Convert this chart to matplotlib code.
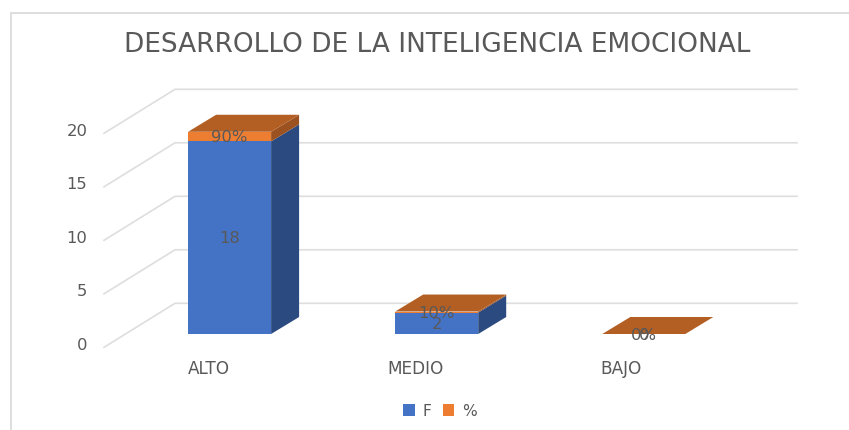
import matplotlib
matplotlib.use("Agg")
import matplotlib.pyplot as plt
from matplotlib.patches import Polygon, Patch

categories = ["ALTO", "MEDIO", "BAJO"]
f_values = [18, 2, 0]
pct_values = [0.9, 0.1, 0.0]
pct_labels = ["90%", "10%", "0%"]
y_ticks = [0, 5, 10, 15, 20]
title = "DESARROLLO DE LA INTELIGENCIA EMOCIONAL"

W, H = 849, 430
X0, XS = 229.6, 207.1      # pixel of category 0, pixels per category
Y0, YS = 334.0, 10.7       # pixel of value 0 at bar front, pixels per unit
TXT = "#595959"; GRID = "#dedede"
BLUE = "#4472c4"; BLUE_S = "#2b4a80"; ORANGE = "#ed7d31"
ORANGE_S = "#9c5220"; TOP = "#b35e22"
plt.rcParams["font.family"] = ["DejaVu Sans"]

fig = plt.figure(figsize=(W / 100, H / 100), dpi=100, facecolor="white")
ax = fig.add_axes([0, 0, 1, 1])
ax.set_xlim(-X0 / XS, (W - X0) / XS)
ax.set_ylim((Y0 - H) / YS, Y0 / YS)
ax.axis("off")

px = 1 / XS          # one pixel in x data units
py = 1 / YS          # one pixel in y data units
DX, DY = 28 * px, 17 * py      # bar depth
width = 83 * px

# chart frame
ax.plot([(11 - X0) * px] * 2, [(Y0 - 430) * py, (Y0 - 13) * py], color=GRID, lw=1.4, zorder=1)
ax.plot([(11 - X0) * px, (849 - X0) * px], [(Y0 - 13) * py] * 2, color=GRID, lw=1.4, zorder=1)

# walls
for v in y_ticks:
    back = v + (Y0 - 303.3) * py
    front = v - 13.3 * py
    ax.plot([(104 - X0) * px, (175 - X0) * px, (797 - X0) * px], [front, back, back],
            color=GRID, lw=1.2, zorder=2, solid_joinstyle="miter")
    ax.text((87.5 - X0) * px, v - 11.4 * py, str(v), ha="right", va="center",
            color=TXT, fontsize=11.8, zorder=6)

pos = range(len(categories))
ax.bar(pos, f_values, width=width, color=BLUE, zorder=4)
ax.bar(pos, pct_values, width=width, bottom=f_values, color=ORANGE, zorder=4)

for i, (f, p) in enumerate(zip(f_values, pct_values)):
    r, l = i + width / 2, i - width / 2
    t = f + p
    if f > 0:
        ax.add_patch(Polygon([(r, 0), (r + DX, DY), (r + DX, f + DY), (r, f)],
                             fc=BLUE_S, ec="none", zorder=3))
    if p > 0:
        ax.add_patch(Polygon([(r, f), (r + DX, f + DY), (r + DX, t + DY), (r, t)],
                             fc=ORANGE_S, ec="none", zorder=3))
    ax.add_patch(Polygon([(l, t), (r, t), (r + DX, t + DY), (l + DX, t + DY)],
                         fc=TOP, ec="none", zorder=4))
    ax.text(i, f / 2 - 0.12, str(f), ha="center", va="center", color=TXT, fontsize=11.8, zorder=5)
    ax.text(i, f + p / 2 - 0.12, pct_labels[i], ha="center", va="center", color=TXT, fontsize=11.8, zorder=5)
    ax.text(i - (20.5 + 1.1 * i) * px, -40 * py, categories[i], ha="center", va="baseline",
            color=TXT, fontsize=12.2, zorder=6)

handles = [Patch(fc=BLUE, label="F"), Patch(fc=ORANGE, label="%")]
fig.legend(handles=handles, loc="center", bbox_to_anchor=(440 / W, 1 - 411 / H), ncol=2,
           frameon=False, fontsize=11.2, labelcolor=TXT, handlelength=0.75, handleheight=0.75,
           handletextpad=0.5, columnspacing=0.7, borderpad=0)

ax.text((437 - X0) * px, (Y0 - 45) * py, title, ha="center", va="center", color=TXT, fontsize=19, zorder=6)

fig.savefig("out.png", dpi=100)
